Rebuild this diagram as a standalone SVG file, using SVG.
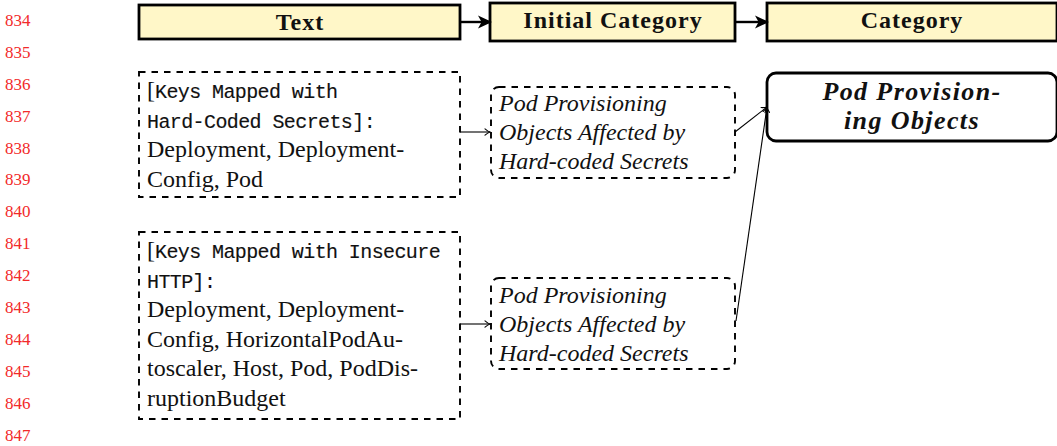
<svg xmlns="http://www.w3.org/2000/svg" width="1057" height="446" viewBox="0 0 1057 446">
  <style>
    .lineno { font-family: "Liberation Serif", serif; font-size: 17px; fill: #f22a2a; }
    .hdr-box { fill: #fff7c8; stroke: #000; stroke-width: 2.8; }
    .hdr-txt { font-family: "Liberation Serif", serif; font-weight: bold; font-size: 24px; letter-spacing: 1px; fill: #111; text-anchor: middle; }
    .src-box { fill: none; stroke: #000; stroke-width: 1.9; stroke-dasharray: 6.5 6; }
    .roman { font-family: "Liberation Serif", serif; font-size: 24px; fill: #111; }
    .mono { font-family: "Liberation Mono", monospace; font-size: 20px; letter-spacing: -0.6px; fill: #111; stroke: #111; stroke-width: 0.15; }
    .ital { font-family: "Liberation Serif", serif; font-style: italic; font-size: 24px; fill: #111; }
    .cat-box { fill: #fff; stroke: #000; stroke-width: 2.8; }
    .cat-txt { font-family: "Liberation Serif", serif; font-style: italic; font-weight: bold; font-size: 26px; letter-spacing: 1.4px; fill: #111; text-anchor: middle; }
    .thick-arrow { stroke: #000; stroke-width: 2.4; fill: none; marker-end: url(#stealth); }
    .thin-arrow { stroke: #000; stroke-width: 1.1; fill: none; marker-end: url(#to); }
  </style>
  <defs>
    <marker id="stealth" viewBox="0 0 14 14" refX="11" refY="7" markerWidth="14" markerHeight="14" markerUnits="userSpaceOnUse" orient="auto">
      <path d="M0,0.5 L14,7 L0,13.5 L3.6,7 Z" fill="#000"/>
    </marker>
    <marker id="to" viewBox="-6 -4 7 8" refX="0" refY="0" markerWidth="7" markerHeight="8" markerUnits="userSpaceOnUse" orient="auto">
      <path d="M-5,-3.2 Q-2,-0.6 0,0 Q-2,0.6 -5,3.2" fill="none" stroke="#000" stroke-width="1.1" stroke-linecap="round"/>
    </marker>
  </defs>

  <!-- margin line numbers -->
  <g id="line-numbers">
    <text class="lineno" x="5" y="26">834</text>
    <text class="lineno" x="5" y="58">835</text>
    <text class="lineno" x="5" y="90">836</text>
    <text class="lineno" x="5" y="122">837</text>
    <text class="lineno" x="5" y="154">838</text>
    <text class="lineno" x="5" y="185">839</text>
    <text class="lineno" x="5" y="217">840</text>
    <text class="lineno" x="5" y="249">841</text>
    <text class="lineno" x="5" y="281">842</text>
    <text class="lineno" x="5" y="313">843</text>
    <text class="lineno" x="5" y="345">844</text>
    <text class="lineno" x="5" y="377">845</text>
    <text class="lineno" x="5" y="409">846</text>
    <text class="lineno" x="5" y="441">847</text>
  </g>

  <!-- column headers -->
  <g id="hdr-text">
    <rect class="hdr-box" x="139" y="5" width="321" height="34"/>
    <text class="hdr-txt" x="300" y="30">Text</text>
  </g>
  <g id="hdr-initial">
    <rect class="hdr-box" x="490" y="3" width="245" height="38"/>
    <text class="hdr-txt" x="613" y="28">Initial Category</text>
  </g>
  <g id="hdr-category">
    <rect class="hdr-box" x="767" y="3" width="290" height="38"/>
    <text class="hdr-txt" x="912" y="28">Category</text>
  </g>

  <!-- source text blocks -->
  <g id="src-secrets">
    <rect class="src-box" x="139" y="72" width="321" height="125"/>
    <text x="147" y="98"><tspan class="roman">[</tspan><tspan class="mono">Keys Mapped with</tspan></text>
    <text class="mono" x="147" y="127.5">Hard-Coded Secrets]:</text>
    <text class="roman" x="147" y="157">Deployment, Deployment-</text>
    <text class="roman" x="147" y="186.5">Config, Pod</text>
  </g>
  <g id="src-http">
    <rect class="src-box" x="139" y="232" width="321" height="187"/>
    <text x="147" y="258"><tspan class="roman">[</tspan><tspan class="mono">Keys Mapped with Insecure</tspan></text>
    <text class="mono" x="147" y="287.5">HTTP]:</text>
    <text class="roman" x="147" y="317">Deployment, Deployment-</text>
    <text class="roman" x="147" y="346.5">Config, HorizontalPodAu-</text>
    <text class="roman" x="147" y="376">toscaler, Host, Pod, PodDis-</text>
    <text class="roman" x="147" y="405.5">ruptionBudget</text>
  </g>

  <!-- initial categories -->
  <g id="init-1">
    <rect class="src-box" x="491" y="87" width="244" height="91" rx="8" ry="8"/>
    <text class="ital" x="499" y="111">Pod Provisioning</text>
    <text class="ital" x="499" y="140">Objects Affected by</text>
    <text class="ital" x="499" y="169">Hard-coded Secrets</text>
  </g>
  <g id="init-2">
    <rect class="src-box" x="491" y="278" width="244" height="91" rx="8" ry="8"/>
    <text class="ital" x="499" y="303">Pod Provisioning</text>
    <text class="ital" x="499" y="332">Objects Affected by</text>
    <text class="ital" x="499" y="361">Hard-coded Secrets</text>
  </g>

  <!-- final category -->
  <g id="cat-pod">
    <rect class="cat-box" x="767" y="73" width="290" height="68" rx="9" ry="9"/>
    <text class="cat-txt" x="912" y="100">Pod Provision-</text>
    <text class="cat-txt" x="912" y="129">ing Objects</text>
  </g>

  <!-- connectors -->
  <g id="connectors">
    <line class="thick-arrow" x1="460" y1="22" x2="489" y2="22"/>
    <line class="thick-arrow" x1="735" y1="22" x2="766" y2="22"/>
    <line class="thin-arrow" x1="460" y1="132" x2="490" y2="132"/>
    <line class="thin-arrow" x1="460" y1="324" x2="490" y2="324"/>
    <line class="thin-arrow" x1="735" y1="132" x2="767" y2="107"/>
    <line class="thin-arrow" x1="736" y1="321" x2="767" y2="107"/>
  </g>
</svg>
